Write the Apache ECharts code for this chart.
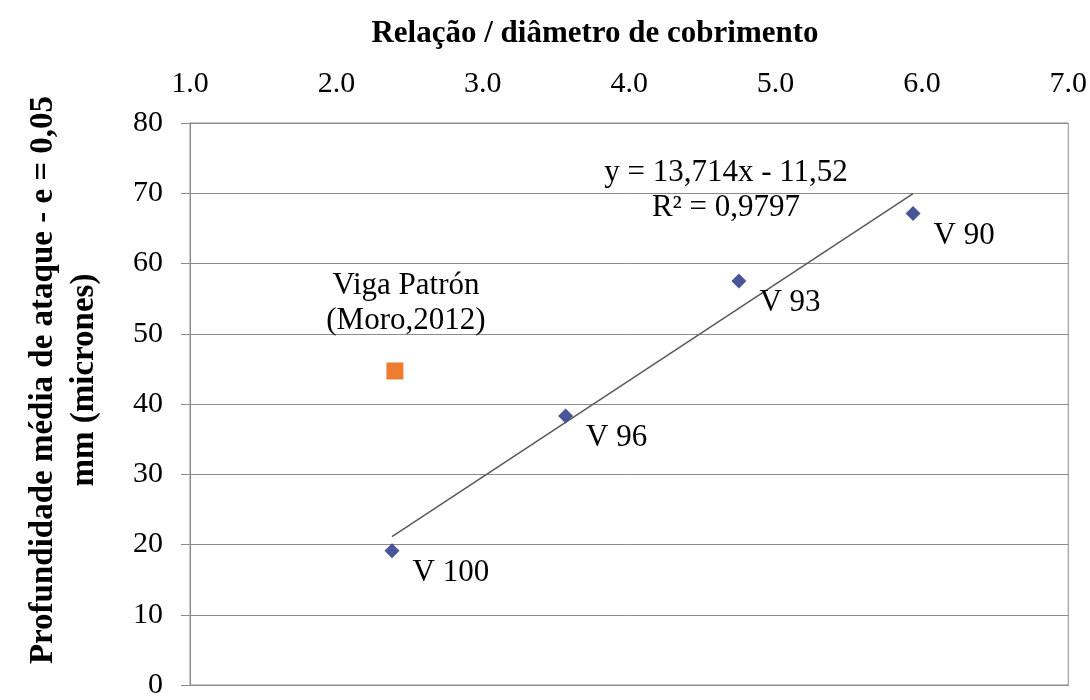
<!DOCTYPE html>
<html>
<head>
<meta charset="utf-8">
<script src="https://cdn.jsdelivr.net/npm/echarts@6/dist/echarts.min.js"></script>
<style>
html, body { margin: 0; padding: 0; background: #fff; }
#chart { width: 1090px; height: 700px; }
</style>
</head>
<body>
<div id="chart"></div>
<script>
// valores
const vigaNames = ["V 100", "V 96", "V 93", "V 90"];
const relacao = [2.38, 3.566, 4.75, 5.94];
const profundidade = [19.1, 38.3, 57.5, 67.1];

const patronName = "Viga Patrón\n(Moro,2012)";
const patronX = [2.4];
const patronY = [44.7];

// linha de tendência (Excel)
const trendSlope = 13.714;
const trendIntercept = -11.52;
const trendText = "y = 13,714x - 11,52\nR² = 0,9797";

const xTicks = [1, 2, 3, 4, 5, 6, 7];
const yTicks = [0, 10, 20, 30, 40, 50, 60, 70, 80];

const serif = "'Liberation Serif', 'Times New Roman', serif";

const xMin = Math.min(...relacao), xMax = Math.max(...relacao);
const trendData = [
  [xMin, trendSlope * xMin + trendIntercept],
  [xMax, trendSlope * xMax + trendIntercept]
];

let myChart = echarts.init(document.getElementById("chart"));
myChart.setOption({
  animation: false,
  textStyle: { fontFamily: serif, color: "#000" },
  title: {
    text: "Relação / diâmetro de cobrimento",
    left: 590,
    top: 13,
    textAlign: "center",
    textStyle: { fontFamily: serif, fontSize: 31, fontWeight: "bold", color: "#000" }
  },
  grid: {
    left: 190, right: 19, top: 123, bottom: 9,
    show: true, borderColor: "#8c8c8c", borderWidth: 1
  },
  xAxis: {
    type: "value",
    position: "top",
    min: xTicks[0],
    max: xTicks[xTicks.length - 1],
    interval: 1,
    axisLine: { show: true, lineStyle: { color: "#8c8c8c" } },
    axisTick: { show: false },
    splitLine: { show: false },
    axisLabel: {
      margin: 24,
      fontSize: 30,
      fontFamily: serif,
      color: "#000",
      formatter: v => v.toFixed(1)
    }
  },
  yAxis: {
    type: "value",
    min: yTicks[0],
    max: yTicks[yTicks.length - 1],
    interval: 10,
    axisLine: { show: true, lineStyle: { color: "#8c8c8c" } },
    axisTick: { show: true, length: 9, lineStyle: { color: "#8c8c8c" } },
    splitLine: { show: true, lineStyle: { color: "#8c8c8c", width: 1 } },
    axisLabel: { margin: 27, fontSize: 30, fontFamily: serif, color: "#000" }
  },
  graphic: [
    {
      type: "text",
      x: 64, y: 380,
      rotation: Math.PI / 2,
      style: {
        text: "Profundidade média de ataque - e = 0,05\nmm (micrones)",
        font: "bold 33px " + serif,
        fill: "#000",
        align: "center",
        verticalAlign: "middle",
        lineHeight: 41
      }
    },
    {
      type: "text",
      x: 726, y: 190,
      style: {
        text: trendText,
        font: "31px " + serif,
        fill: "#000",
        align: "center",
        verticalAlign: "middle",
        lineHeight: 35
      }
    }
  ],
  series: [
    {
      name: "tendência",
      type: "line",
      data: trendData,
      symbol: "none",
      lineStyle: { color: "#595959", width: 1.5 },
      z: 1
    },
    {
      name: "Vigas",
      type: "scatter",
      symbol: "diamond",
      symbolSize: 15,
      itemStyle: { color: "#4A5598", opacity: 1 },
      data: relacao.map((x, i) => ({ name: vigaNames[i], value: [x, profundidade[i]] })),
      label: {
        show: true,
        position: "right",
        distance: 0,
        offset: [13, 22],
        formatter: p => p.name,
        fontSize: 31,
        fontFamily: serif,
        color: "#000"
      },
      z: 3
    },
    {
      name: "Patrón",
      type: "scatter",
      symbol: "rect",
      symbolSize: 17,
      itemStyle: { color: "#ED7D31", opacity: 1 },
      data: patronX.map((x, i) => ({ name: patronName, value: [x, patronY[i]] })),
      label: {
        show: true,
        position: "top",
        distance: 24,
        offset: [11, 0],
        formatter: p => p.name,
        fontSize: 31,
        lineHeight: 35,
        fontFamily: serif,
        color: "#000",
        align: "center"
      },
      z: 3
    }
  ]
});
</script>
</body>
</html>
